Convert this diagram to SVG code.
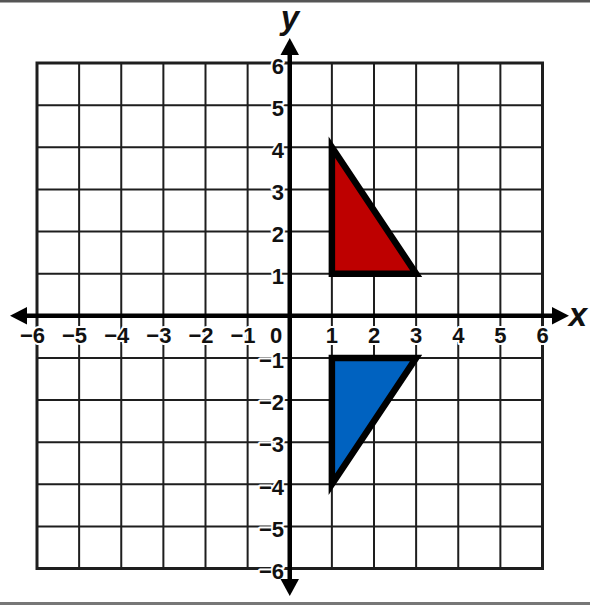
<svg xmlns="http://www.w3.org/2000/svg" width="590" height="605" viewBox="0 0 590 605">
<style>
.grid{fill:none;stroke:#1e1e1e;stroke-width:2}
.frame{fill:none;stroke:#1e1e1e;stroke-width:3}
.axis{stroke:#000;stroke-width:4.5;fill:none}
.lbl{font-family:"Liberation Sans",Arial,sans-serif;font-weight:bold;font-size:22px;fill:#111;stroke:#fff;stroke-width:4;paint-order:stroke;stroke-linejoin:round}
.xl{text-anchor:middle}
.nl{text-anchor:end}
.ax{font-family:"Liberation Sans",Arial,sans-serif;font-weight:bold;font-style:italic;font-size:33px;fill:#111;text-anchor:middle}
.tri{stroke:#000;stroke-width:6.5;stroke-linejoin:miter;stroke-miterlimit:10}
</style>
<rect x="0" y="0" width="590" height="605" fill="#fff"/>
<rect x="0" y="0" width="590" height="2.5" fill="#555"/>
<rect x="0" y="602" width="590" height="3" fill="#777"/>
<g id="grid">
<path class="grid" d="M79.125 63V568.5M121.25 63V568.5M163.375 63V568.5M205.5 63V568.5M247.625 63V568.5M331.875 63V568.5M374 63V568.5M416.125 63V568.5M458.25 63V568.5M500.375 63V568.5M37 105.125H542.5M37 147.25H542.5M37 189.375H542.5M37 231.5H542.5M37 273.625H542.5M37 357.875H542.5M37 400H542.5M37 442.125H542.5M37 484.25H542.5M37 526.375H542.5"/>
<rect class="frame" x="37" y="63" width="505.5" height="505.5"/>
</g>
<g id="labels">
<text class="lbl xl" x="331.9" y="343">1</text>
<text class="lbl xl" x="374" y="343">2</text>
<text class="lbl xl" x="416.1" y="343">3</text>
<text class="lbl xl" x="458.3" y="343">4</text>
<text class="lbl xl" x="500.4" y="343">5</text>
<text class="lbl xl" x="542.5" y="343">6</text>
<text class="lbl nl" x="255.6" y="343">−1</text>
<text class="lbl nl" x="213.5" y="343">−2</text>
<text class="lbl nl" x="171.4" y="343">−3</text>
<text class="lbl nl" x="129.3" y="343">−4</text>
<text class="lbl nl" x="87.1" y="343">−5</text>
<text class="lbl nl" x="45" y="343">−6</text>
<text class="lbl xl" x="276" y="343">0</text>
<text class="lbl nl" x="284" y="284">1</text>
<text class="lbl nl" x="284" y="242">2</text>
<text class="lbl nl" x="284" y="199.5">3</text>
<text class="lbl nl" x="284" y="157.5">4</text>
<text class="lbl nl" x="284" y="115.5">5</text>
<text class="lbl nl" x="284" y="74">6</text>
<text class="lbl nl" x="284" y="368">−1</text>
<text class="lbl nl" x="284" y="410">−2</text>
<text class="lbl nl" x="284" y="452">−3</text>
<text class="lbl nl" x="284" y="494.5">−4</text>
<text class="lbl nl" x="284" y="536.5">−5</text>
<text class="lbl nl" x="284" y="578.5">−6</text>
</g>
<g id="connectors">
<path class="axis" d="M24 315.75H554"/>
<path class="axis" d="M289.75 52V582"/>
<polygon points="10,315.75 27,307 27,324.5" fill="#000"/>
<polygon points="569,315.75 552,307 552,324.5" fill="#000"/>
<polygon points="289.75,38 280.5,55 299,55" fill="#000"/>
<polygon points="289.75,596 280.5,579 299,579" fill="#000"/>
</g>
<g id="axis-names">
<text class="ax" x="290" y="29">y</text>
<text class="ax" x="578" y="326">x</text>
</g>
<g id="red-triangle">
<polygon class="tri" points="331.875,147.25 331.875,273.625 416.125,273.625" fill="#BE0000"/>
</g>
<g id="blue-triangle">
<polygon class="tri" points="331.875,357.875 416.125,357.875 331.875,484.25" fill="#0062C0"/>
</g>
</svg>
